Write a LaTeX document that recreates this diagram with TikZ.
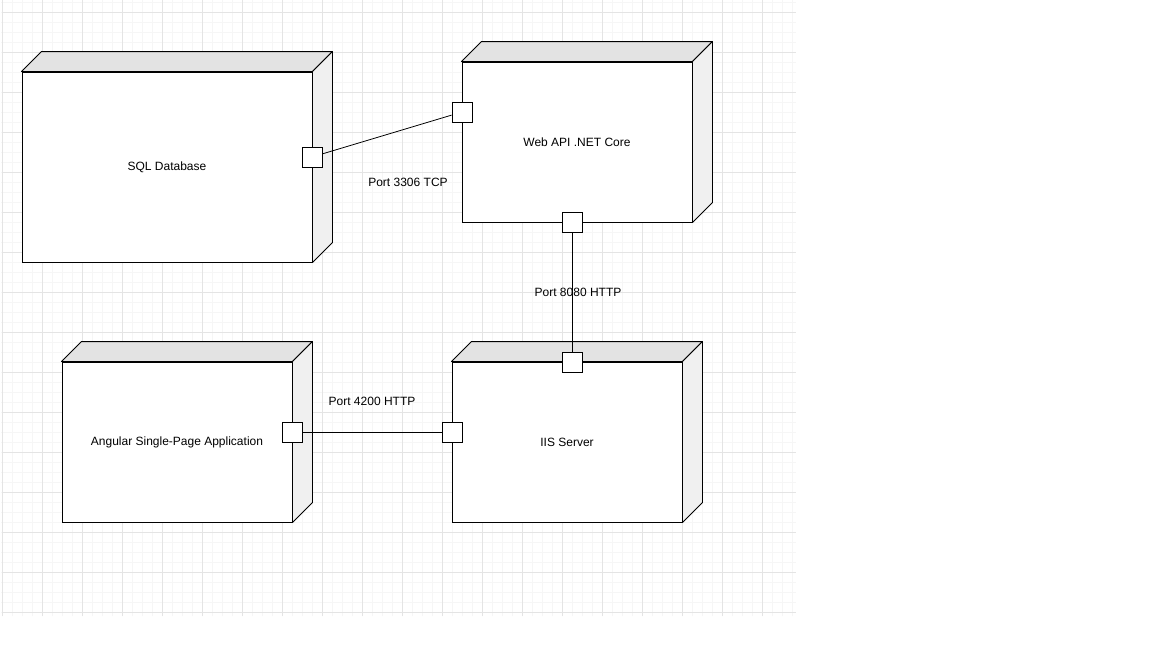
\documentclass[tikz,border=0pt]{standalone}
\usepackage{fontspec}
\setmainfont{Liberation Sans}

\definecolor{minorline}{HTML}{F6F6F6}
\definecolor{majorline}{HTML}{E4E4E4}
\definecolor{topgray}{HTML}{E3E3E3}
\definecolor{sidegray}{HTML}{F0F0F0}

\tikzset{
	node box/.style = {draw = black, fill = white, line width = 0.9pt,
					   minimum width = 230pt, minimum height = 160pt,
					   inner sep = 0pt, font = \fontsize{12}{14}\selectfont},
	top face/.style = {fill = topgray, draw = black, line width = 0.9pt, line join = round},
	side face/.style = {fill = sidegray, draw = black, line width = 0.9pt, line join = round},
	port/.style = {draw = black, fill = white, line width = 0.9pt,
				   minimum size = 20pt, inner sep = 0pt},
	link/.style = {draw = black, line width = 0.8pt},
	port label/.style = {font = \fontsize{12}{14}\selectfont, inner sep = 1pt}
}

\begin{document}
\begin{tikzpicture}[x = 1pt, y = -1pt]

	\useasboundingbox (0,0) rectangle (1152,648);
	\fill[white] (0,0) rectangle (1152,648);

	% grid
	\begin{scope}[shift = {(2.7,12.7)}]
		\draw[minorline, line width = 0.6pt, step = 10pt] (-1.5,-12.7) grid (793,603.5);
		\draw[majorline, line width = 0.8pt, step = 40pt] (0,-12.7) grid (793,603.5);
	\end{scope}

	% nodes
	\draw (167,167) node[node box,
					 minimum width = 290pt,
					 minimum height = 190pt] (sql) {SQL Database};

	\draw (577,142) node[node box] (api) {Web API .NET Core};

	\draw (177,442) node[node box] (spa) {Angular Single-Page Application};

	\draw (567,442) node[node box] (iis) {IIS Server};

	% 3d faces
	\foreach \n in {sql, api, spa, iis} {
		\draw[top face] (\n.north west) -- ++(20,-20)
			-- ([shift = {(20,-20)}]\n.north east) -- (\n.north east) -- cycle;
		\draw[side face] (\n.north east) -- ++(20,-20)
			-- ([shift = {(20,-20)}]\n.south east) -- (\n.south east) -- cycle;
	}

	% ports
	\draw (312,157) node[port] (sqlport) {};
	\draw (462,112) node[port] (apidb) {};
	\draw (572,222) node[port] (apiweb) {};
	\draw (572,362) node[port] (iisapi) {};
	\draw (292,432) node[port] (spaport) {};
	\draw (452,432) node[port] (iisspa) {};

	% links
	\draw[link] (sqlport) -- (apidb);
	\draw[link] (apiweb) -- (iisapi);
	\draw[link] (spaport) -- (iisspa);

	\draw (408,182) node[port label] (tcp) {Port 3306 TCP};
	\draw (578,292) node[port label] (http8080) {Port 8080 HTTP};
	\draw (372,401) node[port label] (http4200) {Port 4200 HTTP};

\end{tikzpicture}
\end{document}
